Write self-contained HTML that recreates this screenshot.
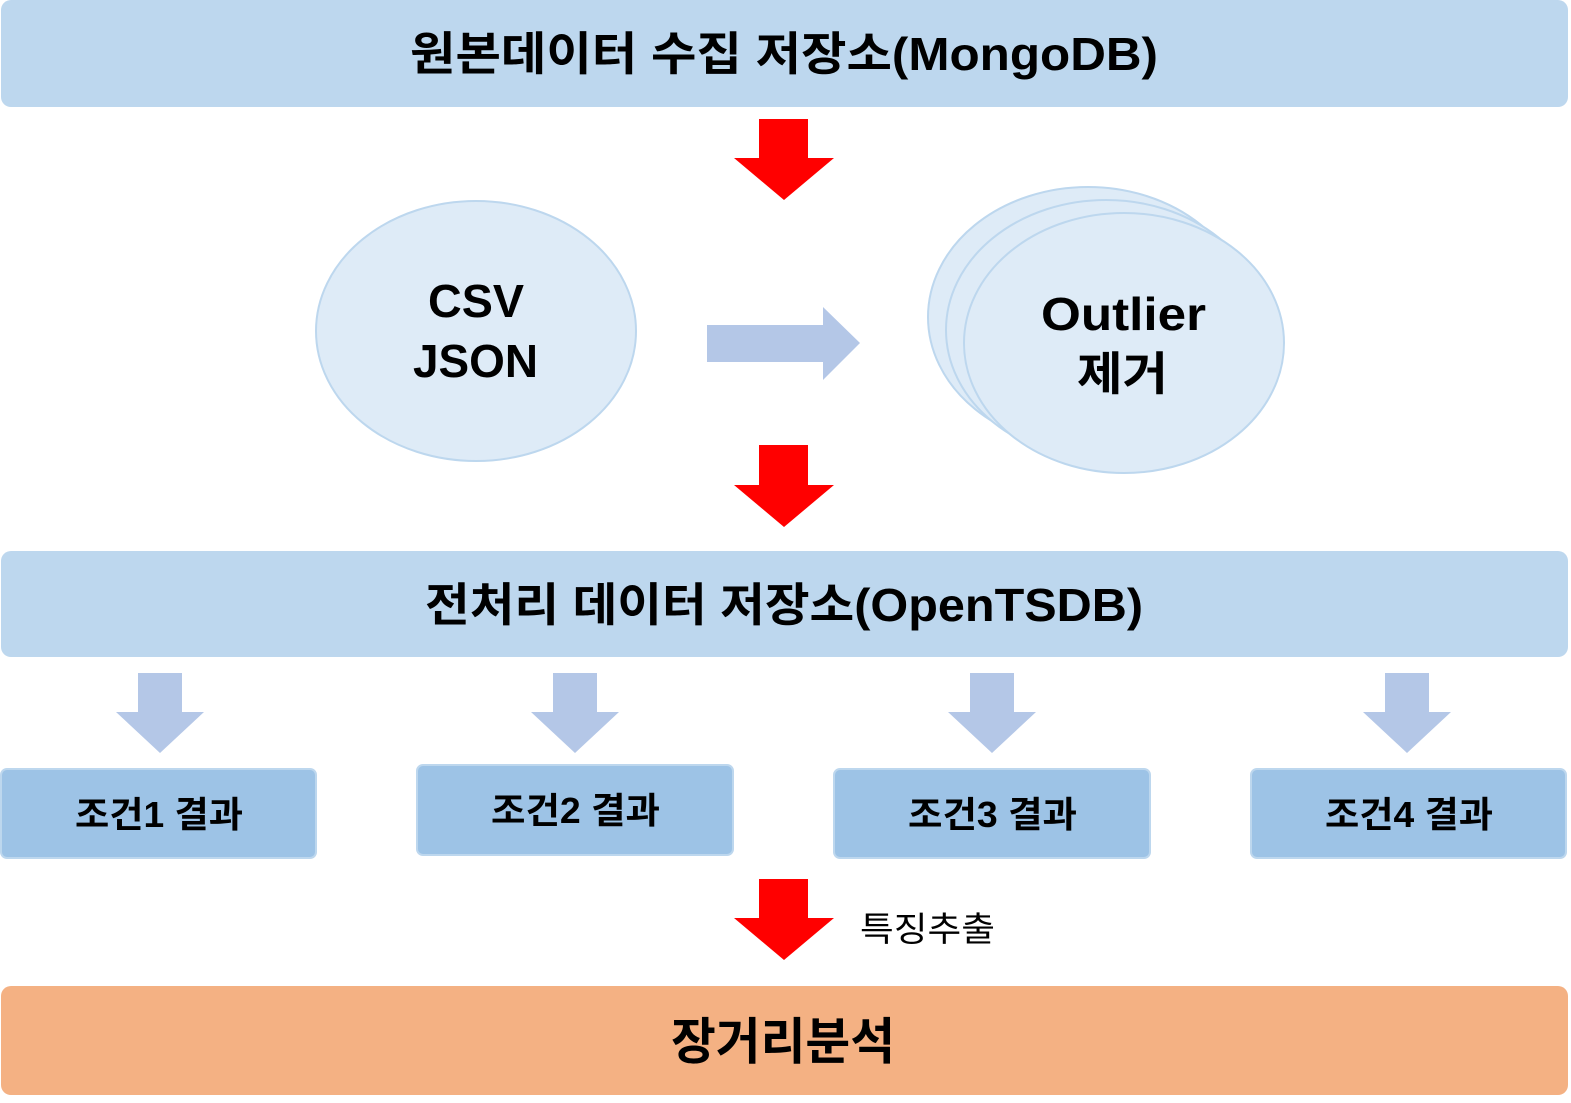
<!DOCTYPE html>
<html><head><meta charset="utf-8"><style>
html,body{margin:0;padding:0;background:#fff;width:1571px;height:1103px;overflow:hidden}
text{font-family:"Liberation Sans","Noto Sans CJK KR","NanumGothic",sans-serif}
</style></head><body>
<svg width="1571" height="1103" xmlns="http://www.w3.org/2000/svg">
<rect x="1" y="0" width="1567" height="107" rx="10" fill="#bdd7ee"/>
<text x="410" y="70" font-size="46" font-weight="bold" textLength="748" lengthAdjust="spacingAndGlyphs" fill="#000">원본데이터 수집 저장소(MongoDB)</text>
<polygon points="759,119 808,119 808,158 834,158 784,200 734,158 759,158" fill="#ff0000"/>
<ellipse cx="476" cy="331" rx="160" ry="130" fill="#deebf7" stroke="#bdd7ee" stroke-width="2"/>
<text x="428" y="317" font-size="46" font-weight="bold" textLength="96" lengthAdjust="spacingAndGlyphs">CSV</text>
<text x="413" y="377" font-size="46" font-weight="bold" textLength="125" lengthAdjust="spacingAndGlyphs">JSON</text>
<polygon points="707,325 823,325 823,307 860,343 823,380 823,362 707,362" fill="#b4c7e7"/>
<ellipse cx="1088" cy="317" rx="160" ry="130" fill="#deebf7" stroke="#bdd7ee" stroke-width="2"/>
<ellipse cx="1106" cy="330" rx="160" ry="130" fill="#deebf7" stroke="#bdd7ee" stroke-width="2"/>
<ellipse cx="1124" cy="343" rx="160" ry="130" fill="#deebf7" stroke="#bdd7ee" stroke-width="2"/>
<text x="1041" y="330" font-size="46" font-weight="bold" textLength="165" lengthAdjust="spacingAndGlyphs">Outlier</text>
<text x="1077" y="390" font-size="46" font-weight="bold" textLength="91" lengthAdjust="spacingAndGlyphs">제거</text>
<polygon points="759,445 808,445 808,485 834,485 784,527 734,485 759,485" fill="#ff0000"/>
<rect x="1" y="551" width="1567" height="106" rx="10" fill="#bdd7ee"/>
<text x="425" y="621" font-size="46" font-weight="bold" textLength="718" lengthAdjust="spacingAndGlyphs">전처리 데이터 저장소(OpenTSDB)</text>
<g fill="#b4c7e7">
<polygon points="138,673 182,673 182,712 204,712 160,753 116,712 138,712"/>
<polygon points="553,673 597,673 597,712 619,712 575,753 531,712 553,712"/>
<polygon points="970,673 1014,673 1014,712 1036,712 992,753 948,712 970,712"/>
<polygon points="1385,673 1429,673 1429,712 1451,712 1407,753 1363,712 1385,712"/>
</g>
<g fill="#9dc3e6" stroke="#bdd7ee" stroke-width="2">
<rect x="1" y="769" width="315" height="89" rx="6"/>
<rect x="417" y="765" width="316" height="90" rx="6"/>
<rect x="834" y="769" width="316" height="89" rx="6"/>
<rect x="1251" y="769" width="315" height="89" rx="6"/>
</g>
<g font-size="36" font-weight="bold">
<text x="75" y="827" textLength="168" lengthAdjust="spacingAndGlyphs">조건1 결과</text>
<text x="491" y="823" textLength="169" lengthAdjust="spacingAndGlyphs">조건2 결과</text>
<text x="908" y="827" textLength="169" lengthAdjust="spacingAndGlyphs">조건3 결과</text>
<text x="1325" y="827" textLength="168" lengthAdjust="spacingAndGlyphs">조건4 결과</text>
</g>
<polygon points="759,879 808,879 808,918 834,918 784,960 734,918 759,918" fill="#ff0000"/>
<text x="860" y="941" font-size="34" textLength="135" lengthAdjust="spacingAndGlyphs">특징추출</text>
<rect x="1" y="986" width="1567" height="109" rx="10" fill="#f4b183"/>
<text x="671" y="1059" font-size="50" font-weight="bold" textLength="224" lengthAdjust="spacingAndGlyphs">장거리분석</text>
</svg>
</body></html>
